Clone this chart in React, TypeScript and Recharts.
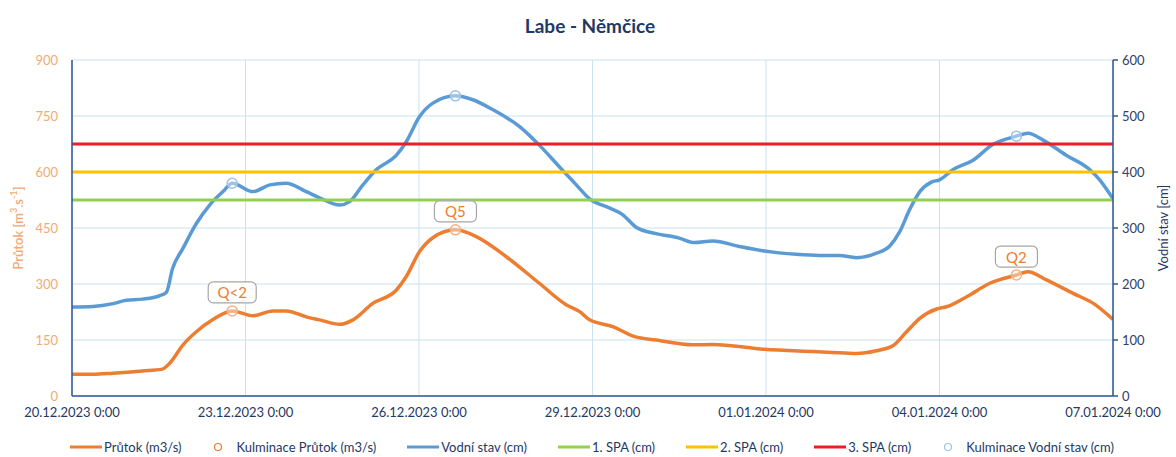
import React from 'react';
import {
  ComposedChart, Line, Scatter, XAxis, YAxis, CartesianGrid, Legend,
} from 'recharts';

// ---- data ----
const xTickDays = [0, 3, 6, 9, 12, 15, 18];
const xTickLabels = [
  '20.12.2023 0:00', '23.12.2023 0:00', '26.12.2023 0:00', '29.12.2023 0:00',
  '01.01.2024 0:00', '04.01.2024 0:00', '07.01.2024 0:00',
];
const flowTicks = [0, 150, 300, 450, 600, 750, 900];
const levelTicks = [0, 100, 200, 300, 400, 500, 600];

// Průtok (m3/s) — day offsets from 20.12.2023 0:00
const flowDays = [0, 0.36, 0.71, 1.22, 1.56, 1.69, 1.92, 2.15, 2.43, 2.77, 3.13, 3.47, 3.7, 4.05, 4.28, 4.63, 4.86, 5.2, 5.61, 5.78, 6.01, 6.24, 6.63, 6.99, 7.51, 8.08, 8.55, 8.78, 8.95, 9.35, 9.73, 10.1, 10.73, 11.08, 11.97, 12.81, 13.27, 13.56, 13.91, 14.2, 14.43, 14.66, 14.95, 15.12, 15.47, 15.87, 16.33, 16.53, 16.85, 17.31, 17.66, 18];
const flowValues = [58, 58, 61, 67, 72, 88, 137, 172, 204, 228, 215, 228, 228, 212, 204, 192, 204, 248, 284, 320, 387, 424, 445, 427, 373, 302, 244, 226, 204, 186, 159, 150, 137, 138, 125, 119, 116, 114, 121, 135, 172, 208, 233, 239, 266, 302, 324, 333, 311, 275, 248, 205];

// Vodní stav (cm)
const levelDays = [0, 0.36, 0.71, 0.94, 1.22, 1.51, 1.63, 1.74, 1.92, 2.15, 2.38, 2.61, 2.77, 3.13, 3.42, 3.7, 4.05, 4.28, 4.63, 4.8, 5.03, 5.26, 5.61, 5.78, 6.01, 6.24, 6.63, 6.93, 7.28, 7.74, 8.08, 8.43, 8.72, 8.95, 9.29, 9.52, 9.76, 10.1, 10.5, 10.76, 11.08, 11.54, 11.97, 12.52, 12.93, 13.27, 13.56, 13.91, 14.14, 14.31, 14.48, 14.66, 14.86, 15.0, 15.23, 15.58, 15.92, 16.33, 16.53, 16.79, 17.19, 17.6, 17.77, 18];
const levelValues = [159, 160, 165, 171, 173, 179, 185, 228, 264, 308, 341, 365, 380, 365, 377, 380, 365, 354, 341, 347, 377, 404, 430, 454, 499, 523, 536, 529, 511, 481, 448, 409, 377, 352, 336, 324, 301, 290, 282, 274, 277, 267, 259, 253, 251, 251, 247, 255, 268, 293, 332, 365, 382, 386, 404, 421, 449, 464, 469, 457, 430, 404, 386, 352];

// Kulminace
const flowPeakDays = [2.77, 6.63, 16.33];
const flowPeakValues = [228, 445, 324];
const flowPeakLabels = ['Q<2', 'Q5', 'Q2'];
const levelPeakDays = [2.77, 6.63, 16.33];
const levelPeakValues = [380, 536, 464];

// SPA levels (cm)
const spaNames = ['1. SPA (cm)', '2. SPA (cm)', '3. SPA (cm)'];
const spaValues = [350, 400, 450];

const legendNames = [
  'Průtok (m3/s)', 'Kulminace Průtok (m3/s)', 'Vodní stav (cm)',
  '1. SPA (cm)', '2. SPA (cm)', '3. SPA (cm)', 'Kulminace Vodní stav (cm)',
];

// ---- styles ----
const ORANGE = '#ED7D31';
const BLUE = '#5B9BD5';
const SPA_COLORS = ['#92D050', '#FFC000', '#EE1C25'];
const NAVY = '#1F3864';
const AXIS = '#2F5597';
const GRID = '#C8E2EE';
const LEFT_TICK = '#F2AA72';
const FONT = 'Lato, "Open Sans", sans-serif';

const flowData = flowDays.map((d, i) => ({ d, v: flowValues[i] }));
const levelData = levelDays.map((d, i) => ({ d, v: levelValues[i] }));
const flowPeaks = flowPeakDays.map((d, i) => ({ d, v: flowPeakValues[i], label: flowPeakLabels[i] }));
const levelPeaks = levelPeakDays.map((d, i) => ({ d, v: levelPeakValues[i] }));
const spaData = spaValues.map((v) => [{ d: 0, v }, { d: 18, v }]);

const legendKinds = ['line', 'circle', 'line', 'line', 'line', 'line', 'circle'];
const legendColors = [ORANGE, ORANGE, BLUE, SPA_COLORS[0], SPA_COLORS[1], SPA_COLORS[2], '#9DC3E6'];

const renderLegend = () => (
  <div style={{ height: 31, display: 'flex', alignItems: 'flex-end', justifyContent: 'center' }}>
    <div style={{ display: 'flex', gap: 31, alignItems: 'center', height: 18, marginBottom: 1, marginLeft: 8 }}>
      {legendNames.map((name, i) => (
        <div key={name} style={{ display: 'flex', alignItems: 'center', fontSize: 13, color: NAVY }}>
          {legendKinds[i] === 'line' ? (
            <svg width={32} height={10} style={{ marginRight: 2 }}>
              <line x1={0} y1={5} x2={32} y2={5} stroke={legendColors[i]} strokeWidth={3} />
            </svg>
          ) : (
            <svg width={12} height={10} style={{ marginRight: 12 }}>
              <circle cx={6} cy={5} r={3.5} fill="none" stroke={legendColors[i]} strokeWidth={1.2} />
            </svg>
          )}
          <span>{name}</span>
        </div>
      ))}
    </div>
  </div>
);

const FlowPeakShape = (props: any) => {
  const { cx, cy, payload } = props;
  const w = payload.label.length > 2 ? 48 : 42;
  const h = 21;
  return (
    <g>
      <circle cx={cx} cy={cy} r={5} fill="rgba(255,255,255,0.4)" stroke="#F4B183" strokeWidth={1.5} />
      <rect x={cx - w / 2} y={cy - 8 - h} width={w} height={h} rx={5} ry={5}
        fill="#fff" stroke="#A6A6A6" strokeWidth={1.2} />
      <text x={cx} y={cy - 8 - h / 2} textAnchor="middle" dominantBaseline="central"
        fill={ORANGE} fontSize={15} fontFamily={FONT}>{payload.label}</text>
    </g>
  );
};

const LevelPeakShape = (props: any) => {
  const { cx, cy } = props;
  return <circle cx={cx} cy={cy} r={5} fill="rgba(255,255,255,0.4)" stroke="#9DC3E6" strokeWidth={1.5} />;
};

const LeftLabel = (props: any) => {
  const vb = props.viewBox || { x: 0, y: 60, width: 72, height: 336 };
  const x = vb.x + 18;
  const y = vb.y + vb.height / 2;
  return (
    <text x={x} y={y} transform={`rotate(-90 ${x} ${y})`} textAnchor="middle"
      dominantBaseline="central" fill={LEFT_TICK} fontSize={13} fontWeight={600} fontFamily={FONT}>
      Průtok [m<tspan dy={-5} fontSize={9}>3</tspan><tspan dy={5}>.s</tspan>
      <tspan dy={-5} fontSize={9}>-1</tspan><tspan dy={5}>]</tspan>
    </text>
  );
};

const RightLabel = (props: any) => {
  const vb = props.viewBox || { x: 1113, y: 60, width: 63, height: 336 };
  const x = vb.x + 50;
  const y = vb.y + vb.height / 2;
  return (
    <text x={x} y={y} transform={`rotate(-90 ${x} ${y})`} textAnchor="middle"
      dominantBaseline="central" fill={NAVY} fontSize={13} fontFamily={FONT}>
      Vodní stav [cm]
    </text>
  );
};

export default function App() {
  return (
    <div style={{ position: 'absolute', left: 0, top: 0, width: 1176, height: 457, background: '#fff', fontFamily: FONT }}>
      <div style={{
        position: 'absolute', top: 14, left: 0, width: 1180, textAlign: 'center',
        fontSize: 19, fontWeight: 700, color: NAVY, fontFamily: FONT,
      }}>Labe - Němčice</div>
      <ComposedChart width={1176} height={457} margin={{ top: 60, right: 0, bottom: 0, left: 0 }}>
        <CartesianGrid stroke={GRID} strokeWidth={1} yAxisId="flow" />
        <XAxis dataKey="d" type="number" domain={[0, 18]} ticks={xTickDays} allowDataOverflow
          tickFormatter={(v: number) => xTickLabels[xTickDays.indexOf(v)]}
          height={30} tickLine={false} tickSize={6} tickMargin={6}
          axisLine={{ stroke: AXIS, strokeWidth: 1.5 }}
          tick={{ fill: NAVY, fontSize: 13 }} interval={0} />
        <YAxis yAxisId="flow" orientation="left" domain={[0, 900]} ticks={flowTicks} width={72}
          tickLine={false} tickSize={6} tickMargin={8} axisLine={{ stroke: AXIS, strokeWidth: 1.5 }}
          tick={{ fill: LEFT_TICK, fontSize: 13 }} label={<LeftLabel />} />
        <YAxis yAxisId="level" orientation="right" domain={[0, 600]} ticks={levelTicks} width={63}
          tickLine={{ stroke: AXIS, strokeWidth: 1.5 }} tickSize={5} tickMargin={4}
          axisLine={{ stroke: AXIS, strokeWidth: 1.5 }}
          tick={{ fill: '#2F3E6B', fontSize: 13 }} label={<RightLabel />} />
        <Legend verticalAlign="bottom" content={renderLegend} />
        <Line yAxisId="flow" data={flowData} dataKey="v" name="Průtok (m3/s)" type="monotone"
          stroke={ORANGE} strokeWidth={3.5} dot={false} isAnimationActive={false} />
        <Line yAxisId="level" data={levelData} dataKey="v" name="Vodní stav (cm)" type="monotone"
          stroke={BLUE} strokeWidth={3.5} dot={false} isAnimationActive={false} />
        {spaData.map((data, i) => (
          <Line key={spaNames[i]} yAxisId="level" data={data} dataKey="v" name={spaNames[i]}
            type="linear" stroke={SPA_COLORS[i]} strokeWidth={3} dot={false} isAnimationActive={false} />
        ))}
        <Scatter yAxisId="flow" data={flowPeaks} dataKey="v" name="Kulminace Průtok (m3/s)"
          shape={<FlowPeakShape />} isAnimationActive={false} />
        <Scatter yAxisId="level" data={levelPeaks} dataKey="v" name="Kulminace Vodní stav (cm)"
          shape={<LevelPeakShape />} isAnimationActive={false} />
      </ComposedChart>
    </div>
  );
}
